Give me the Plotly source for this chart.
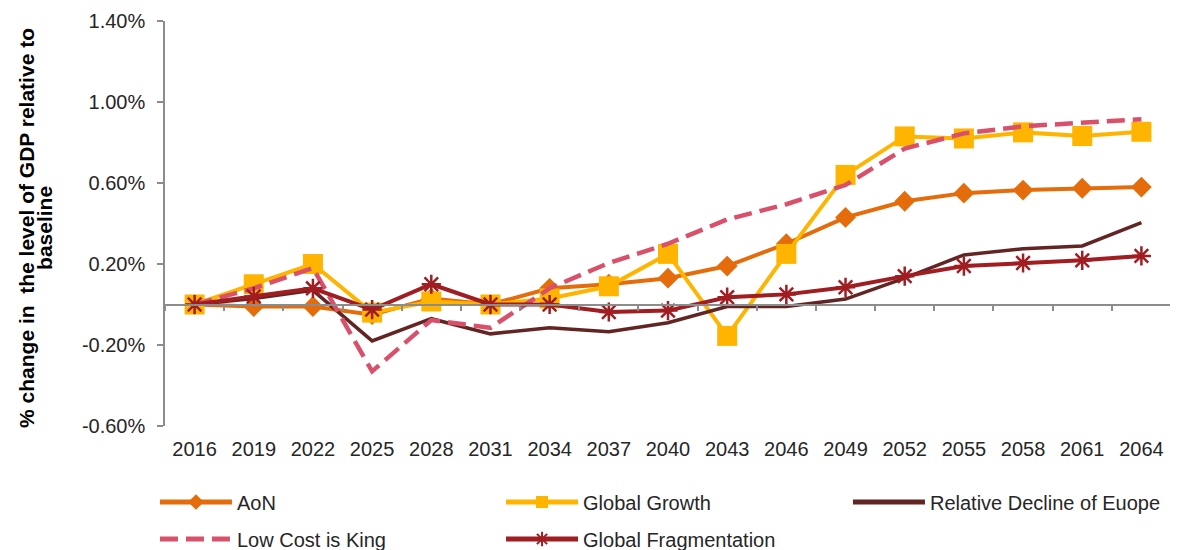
import plotly.graph_objects as go

# ---- Data ---- #
years = ['2016', '2019', '2022', '2025', '2028', '2031', '2034', '2037', '2040',
         '2043', '2046', '2049', '2052', '2055', '2058', '2061', '2064']

aon = [0.00, -0.01, -0.01, -0.05, 0.03, 0.00, 0.08, 0.10, 0.13,
       0.19, 0.30, 0.43, 0.51, 0.55, 0.565, 0.574, 0.58]
global_growth = [0.00, 0.10, 0.20, -0.04, 0.015, 0.00, 0.03, 0.09, 0.25,
                 -0.155, 0.25, 0.64, 0.83, 0.82, 0.85, 0.832, 0.853]
relative_decline = [0.00, 0.03, 0.07, -0.18, -0.07, -0.145, -0.115, -0.135, -0.09,
                    -0.01, -0.01, 0.027, 0.13, 0.245, 0.275, 0.289, 0.404]
low_cost = [0.00, 0.08, 0.18, -0.33, -0.077, -0.115, 0.08, 0.205, 0.30,
            0.42, 0.495, 0.59, 0.77, 0.845, 0.88, 0.898, 0.915]
fragmentation = [0.00, 0.04, 0.08, -0.025, 0.10, 0.00, 0.00, -0.037, -0.03,
                 0.036, 0.05, 0.085, 0.14, 0.19, 0.205, 0.218, 0.24]

y_ticks = [-0.6, -0.2, 0.2, 0.6, 1.0, 1.4]
y_labels = ['-0.60%', '-0.20%', '0.20%', '0.60%', '1.00%', '1.40%']

FONT = 'Liberation Sans, Arial, sans-serif'
TXT = '#262626'
AXC = '#8c8c8c'

# ---- Figure ---- #
fig = go.Figure()

fig.add_trace(go.Scatter(
    x=years, y=aon, name='AoN', mode='lines+markers',
    line=dict(color='#E46C0A', width=4),
    marker=dict(symbol='diamond', size=16, color='#E46C0A'),
    legend='legend'))
fig.add_trace(go.Scatter(
    x=years, y=global_growth, name='Global Growth', mode='lines+markers',
    line=dict(color='#FFB400', width=4),
    marker=dict(symbol='square', size=20, color='#FFB400'),
    legend='legend2'))
fig.add_trace(go.Scatter(
    x=years, y=relative_decline, name='Relative Decline of Euope', mode='lines',
    line=dict(color='#632523', width=3.5),
    legend='legend3'))
fig.add_trace(go.Scatter(
    x=years, y=low_cost, name='Low Cost is King', mode='lines',
    line=dict(color='#D9506B', width=4.5, dash='18px,8px'),
    legend='legend4'))
fig.add_trace(go.Scatter(
    x=years, y=fragmentation, name='Global Fragmentation', mode='lines+markers',
    line=dict(color='#A01D22', width=4),
    marker=dict(symbol='asterisk-open', size=16, color='#A01D22',
                line=dict(color='#A01D22', width=2.5)),
    legend='legend5'))

# helper trace for the axis line at zero
fig.add_trace(go.Scatter(x=years, y=[None] * len(years), xaxis='x2',
                         showlegend=False, hoverinfo='skip'))

# one legend box per entry (3 columns x 2 rows)
leg = dict(orientation='v', yanchor='middle', xanchor='left',
           xref='container', yref='container',
           font=dict(family=FONT, size=20, color=TXT), bgcolor='rgba(0,0,0,0)',
           itemwidth=72, itemsizing='constant')
row1 = (542 - 494) / 542
row2 = (542 - 531) / 542

# page has an 8px body margin, so the figure is a bit smaller than the window
fig.update_layout(
    width=1170, height=542,
    margin=dict(l=157, r=7, t=13, b=124, autoexpand=False),
    plot_bgcolor='white', paper_bgcolor='white',
    font=dict(family=FONT, size=20, color=TXT),
    legend=dict(leg, x=0.1256, y=row1),
    legend2=dict(leg, x=0.4214, y=row1),
    legend3=dict(leg, x=0.7179, y=row1),
    legend4=dict(leg, x=0.1256, y=row2),
    legend5=dict(leg, x=0.4214, y=row2),
    xaxis=dict(type='category', range=[-0.5, 16.5], showline=False, ticks='',
               showgrid=False, zeroline=False, tickfont=dict(size=20, color=TXT),
               ticklabelstandoff=9),
    xaxis2=dict(type='category', overlaying='x', anchor='free', position=0.3,
                range=[-0.5, 16.5], categoryarray=years, categoryorder='array',
                showline=True, linecolor=AXC, linewidth=1.5, ticks='outside',
                ticklen=6, tickcolor=AXC, tickwidth=1.5, tickson='boundaries',
                showticklabels=False, showgrid=False, zeroline=False),
    yaxis=dict(range=[-0.6, 1.4], tickvals=y_ticks, ticktext=y_labels,
               showline=True, linecolor=AXC, linewidth=1.5, ticks='outside',
               ticklen=6, tickcolor=AXC, tickwidth=1.5, showgrid=False,
               zeroline=False, tickfont=dict(size=20, color=TXT),
               ticklabelstandoff=8),
)

# y axis title (two lines)
fig.add_annotation(text='<b>% change in\u00a0 the level of GDP relative to</b>',
                   xref='paper', yref='paper', x=-0.1372, y=0.489, textangle=-90,
                   xanchor='center', yanchor='middle', showarrow=False,
                   font=dict(family=FONT, size=21, color='black'))
fig.add_annotation(text='<b>baseline</b>',
                   xref='paper', yref='paper', x=-0.1193, y=0.489, textangle=-90,
                   xanchor='center', yanchor='middle', showarrow=False,
                   font=dict(family=FONT, size=21, color='black'))

fig.write_html('out.html')
